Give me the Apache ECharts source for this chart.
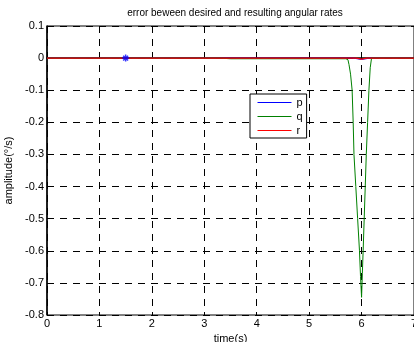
<!DOCTYPE html>
<html>
<head>
<meta charset="utf-8">
<script src="https://cdn.jsdelivr.net/npm/echarts@6/dist/echarts.min.js"></script>
<style>
  html, body { margin: 0; padding: 0; background: #fff; }
  #chart { width: 414px; height: 342px; }
</style>
</head>
<body>
<div id="chart"></div>
<script>
// 数据：时间 (s) 与角速率误差 (°/s)
const pTime = [0, 5.85, 5.95, 6.0, 6.05, 6.15, 7];
const pValues = [0, 0, -0.003, -0.004, -0.003, 0, 0];

const qTime = [0, 3.3, 3.5, 5.7, 5.74, 5.76, 5.79, 5.82, 5.84, 5.855, 5.89, 5.925, 5.96, 5.98, 6.0,
               6.015, 6.03, 6.05, 6.07, 6.09, 6.115, 6.14, 6.165, 6.19, 7];
const qValues = [0, 0, -0.002, -0.002, -0.005, -0.02, -0.05, -0.1, -0.2, -0.3, -0.4, -0.5, -0.6, -0.68, -0.745,
                 -0.67, -0.6, -0.5, -0.4, -0.3, -0.2, -0.1, -0.03, 0, 0];

const rTime = [0, 5.9, 6.0, 6.1, 7];
const rValues = [0, 0, -0.003, 0, 0];

const markerPoint = [1.5, 0];

const seriesNames = ['p', 'q', 'r'];
const seriesColors = ['#0000ff', '#008000', '#ff0000'];

const xTicks = { min: 0, max: 7, step: 1 };
const yTicks = { min: -0.8, max: 0.1, step: 0.1 };

const pairs = (t, v) => t.map((x, i) => [x, v[i]]);

const chart = echarts.init(document.getElementById('chart'));
const font = 'Arial, "Liberation Sans", sans-serif';
const dashLine = { color: '#000', type: [7, 6], width: 1 };

chart.setOption({
  animation: false,
  backgroundColor: '#fff',
  title: {
    text: 'error beween desired and resulting angular rates',
    left: 230,
    textAlign: 'center',
    top: 3,
    textStyle: { fontFamily: font, fontSize: 10, fontWeight: 'normal', color: '#000' }
  },
  grid: {
    left: 47, right: 0, top: 26, bottom: 27,
    outerBoundsMode: 'none',
    containLabel: false,
    show: true, borderColor: '#000', borderWidth: 1
  },
  legend: {
    data: seriesNames.map((n, i) => ({
      name: n,
      lineStyle: { color: seriesColors[i], width: 1 }
    })),
    orient: 'vertical',
    left: 250,
    top: 94,
    padding: [3, 4, 2, 7],
    itemWidth: 34,
    itemHeight: 13,
    itemGap: 3,
    itemStyle: { opacity: 0 },
    backgroundColor: '#fff',
    borderColor: '#000',
    borderWidth: 1,
    borderRadius: 0,
    textStyle: { fontFamily: font, fontSize: 11, color: '#000' }
  },
  xAxis: {
    type: 'value',
    min: xTicks.min, max: xTicks.max, interval: xTicks.step,
    name: 'time(s)',
    nameLocation: 'middle',
    nameGap: 14,
    nameTextStyle: { fontFamily: font, fontSize: 11, color: '#000' },
    axisLine: { show: true, lineStyle: { color: '#000', width: 1.5 } },
    axisTick: { show: true, inside: true, length: 4, lineStyle: { color: '#000' } },
    axisLabel: { fontFamily: font, fontSize: 11, color: '#000', margin: 3 },
    splitLine: { show: true, lineStyle: dashLine }
  },
  yAxis: {
    type: 'value',
    min: yTicks.min, max: yTicks.max, interval: yTicks.step,
    name: 'amplitude(°/s)',
    nameLocation: 'middle',
    nameGap: 28,
    nameTextStyle: { fontFamily: font, fontSize: 11, color: '#000' },
    axisLine: { show: true, lineStyle: { color: '#000', width: 1.5 } },
    axisTick: { show: true, inside: true, length: 4, lineStyle: { color: '#000' } },
    axisLabel: {
      fontFamily: font, fontSize: 11, color: '#000', margin: 3,
      formatter: v => String(Math.round(v * 10) / 10)
    },
    splitLine: { show: true, lineStyle: dashLine }
  },
  series: [
    {
      name: 'p', type: 'line', data: pairs(pTime, pValues),
      symbol: 'none', lineStyle: { color: seriesColors[0], width: 1 }, itemStyle: { color: seriesColors[0] }
    },
    {
      name: 'q', type: 'line', data: pairs(qTime, qValues),
      symbol: 'none', lineStyle: { color: seriesColors[1], width: 1 }, itemStyle: { color: seriesColors[1] }
    },
    {
      name: 'r', type: 'line', data: pairs(rTime, rValues),
      symbol: 'none', lineStyle: { color: seriesColors[2], width: 1.2 }, itemStyle: { color: seriesColors[2] }
    },
    {
      // 星号标记
      name: 'marker', type: 'scatter', data: [markerPoint],
      symbol: 'path://M0,-10L0,10M-10,0L10,0M-7,-7L7,7M-7,7L7,-7',
      symbolSize: 7,
      itemStyle: { color: 'none', borderColor: '#0000ff', borderWidth: 1.5 },
      z: 5
    }
  ]
});
</script>
</body>
</html>
